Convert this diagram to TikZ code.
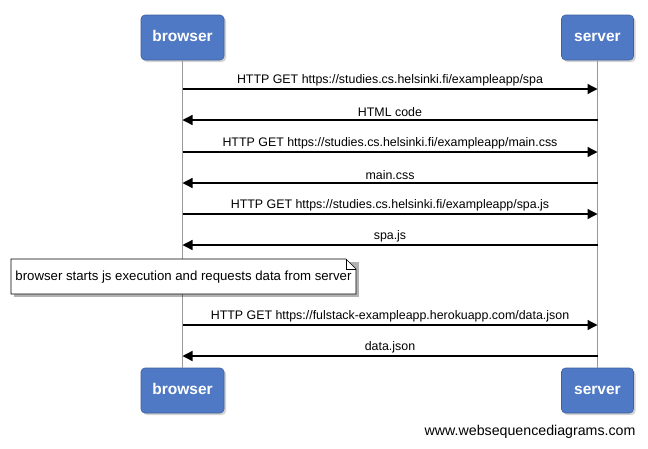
\documentclass[tikz,border=0pt]{standalone}
\usepackage{fontspec}
\setmainfont{Liberation Sans}
\usetikzlibrary{arrows.meta,shadows,shapes.misc}
\definecolor{actorblue}{RGB}{79,121,196}
\tikzset{
  actor/.style={draw=actorblue!80!black, line width=0.6pt, fill=actorblue, rounded corners=4pt,
    minimum height=45pt, text=white, font=\fontsize{15.5}{18}\selectfont\bfseries,
    text height=11pt, text depth=3pt,
    drop shadow={shadow xshift=2pt, shadow yshift=-2pt, opacity=0.35}},
  lifeline/.style={draw=gray!80, line width=1pt},
  msg/.style={draw=black, line width=1.3pt, -{Triangle[length=10pt,width=10pt]}},
  lbl/.style={font=\fontsize{12.4}{14}\selectfont, inner sep=1pt, anchor=south},
  x=1pt, y=-1pt
}
\begin{document}
\begin{tikzpicture}
\useasboundingbox (0,0) rectangle (648,448);
\node[actor, minimum width=83pt] (bt) at (182.5,37.5) {browser};
\node[actor, minimum width=72pt] (st) at (597.5,37.5) {server};
\node[actor, minimum width=83pt] (bb) at (182.5,390.5) {browser};
\node[actor, minimum width=72pt] (sb) at (597.5,390.5) {server};
\draw[lifeline] (bt.south) -- (bb.north);
\draw[lifeline] (st.south) -- (sb.north);
% messages
\foreach \y/\dir/\txt [count=\i] in {
  89/r/{HTTP GET https://studies.cs.helsinki.fi/exampleapp/spa},
  120/l/{HTML code},
  152/r/{HTTP GET https://studies.cs.helsinki.fi/exampleapp/main.css},
  183/l/{main.css},
  214/r/{HTTP GET https://studies.cs.helsinki.fi/exampleapp/spa.js},
  245/l/{spa.js},
  325/r/{HTTP GET https://fulstack-exampleapp.herokuapp.com/data.json},
  356/l/{data.json}}{
  \coordinate (b\i) at (182.5,\y);
  \coordinate (s\i) at (597.5,\y);
  \if r\dir
    \draw[msg] (b\i) -- (s\i) node[midway, lbl, yshift=1.5pt] {\txt};
  \else
    \draw[msg] (s\i) -- (b\i) node[midway, lbl, yshift=1.5pt] {\txt};
  \fi
}
% note
\fill[black, opacity=0.3] (14,262) -- (359,262) -- (359,297) -- (14,297) -- cycle;
\draw[fill=white, line width=0.7pt] (11,259) -- (346,259) -- (356,269) -- (356,294) -- (11,294) -- cycle;
\draw[line width=0.7pt] (346,259) -- (346,269) -- (356,269);
\node[font=\fontsize{13.2}{15}\selectfont] (note) at (183.5,277.5) {browser starts js execution and requests data from server};
\node[anchor=east, font=\fontsize{14.2}{16}\selectfont] (wsd) at (639,432) {www.websequencediagrams.com};
\end{tikzpicture}
\end{document}
